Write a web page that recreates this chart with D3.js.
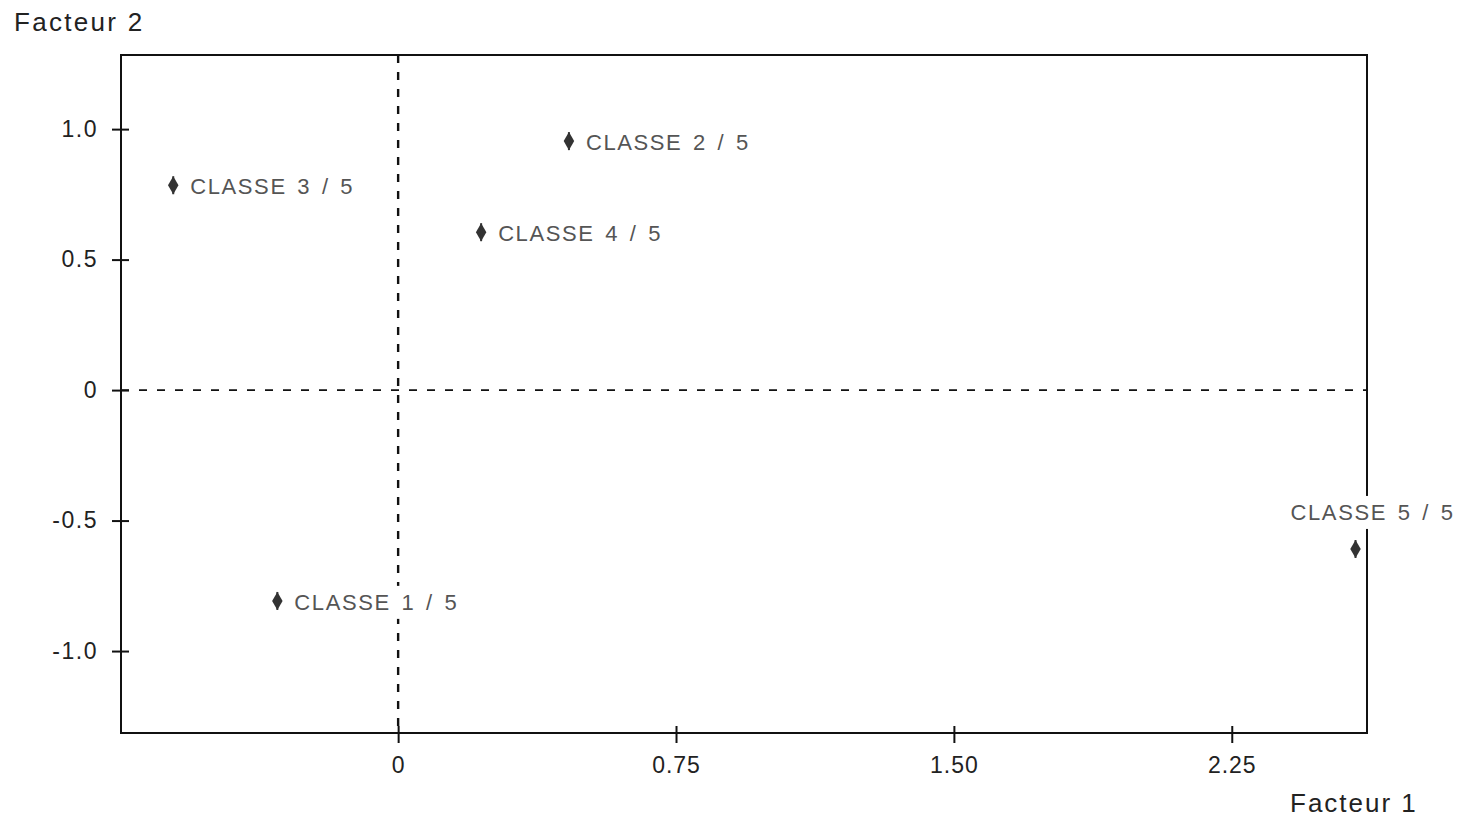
<!DOCTYPE html>
<html>
<head>
<meta charset="utf-8">
<script src="https://cdn.jsdelivr.net/npm/d3@7"></script>
<style>
  html, body { margin: 0; padding: 0; background: #fff; }
  svg { display: block; }
</style>
</head>
<body>
<svg id="chart" width="1464" height="821"></svg>
<script>
// ---- data ----
const labels = ["CLASSE 1 / 5", "CLASSE 2 / 5", "CLASSE 3 / 5", "CLASSE 4 / 5", "CLASSE 5 / 5"];
const factor1 = [-0.326, 0.461, -0.607, 0.224, 2.584];
const factor2 = [-0.808, 0.954, 0.785, 0.605, -0.609];
const xTicks = [0, 0.75, 1.50, 2.25];
const xTickLabels = ["0", "0.75", "1.50", "2.25"];
const yTicks = [-1.0, -0.5, 0, 0.5, 1.0];
const yTickLabels = ["-1.0", "-0.5", "0", "0.5", "1.0"];
const xTitle = "Facteur 1";
const yTitle = "Facteur 2";

// ---- layout ----
const svg = d3.select("#chart");
const L = 121, R = 1367, T = 55, B = 733;
const x = d3.scaleLinear().domain([-0.748, 2.615]).range([L, R]);
const y = d3.scaleLinear().domain([-1.314, 1.284]).range([B, T]);
const font = "'Liberation Sans', Arial, sans-serif";

// zero reference lines (dashed)
svg.append("line")
  .attr("x1", x(0)).attr("x2", x(0)).attr("y1", T).attr("y2", B)
  .attr("stroke", "#111").attr("stroke-width", 2.4).attr("stroke-dasharray", "8,9");
svg.append("line")
  .attr("x1", L).attr("x2", R).attr("y1", y(0)).attr("y2", y(0))
  .attr("stroke", "#111").attr("stroke-width", 1.7).attr("stroke-dasharray", "8,10");

// frame
svg.append("rect")
  .attr("x", L).attr("y", T).attr("width", R - L).attr("height", B - T)
  .attr("fill", "none").attr("stroke", "#111").attr("stroke-width", 2);

// axes via d3 axis generators
const xAxis = d3.axisBottom(x).tickValues(xTicks)
  .tickFormat((d, i) => xTickLabels[i]).tickSizeInner(10).tickSizeOuter(0).tickPadding(14);
const gx = svg.append("g").attr("transform", `translate(0,${B})`).call(xAxis);
gx.select(".domain").remove();
gx.selectAll(".tick line").attr("y1", -7).attr("y2", 10).attr("stroke", "#111").attr("stroke-width", 2);
gx.selectAll(".tick text").attr("font-family", font).attr("font-size", 23)
  .attr("fill", "#222").attr("letter-spacing", 1);

const yAxis = d3.axisLeft(y).tickValues(yTicks)
  .tickFormat((d, i) => yTickLabels[i]).tickSizeInner(9).tickSizeOuter(0).tickPadding(14);
const gy = svg.append("g").attr("transform", `translate(${L},0)`).call(yAxis);
gy.select(".domain").remove();
gy.selectAll(".tick line").attr("x1", -9).attr("x2", 8).attr("stroke", "#111").attr("stroke-width", 2);
gy.selectAll(".tick text").attr("font-family", font).attr("font-size", 23)
  .attr("fill", "#222").attr("letter-spacing", 1.5);

// axis titles
svg.append("text").attr("x", 14).attr("y", 31).text(yTitle)
  .attr("font-family", font).attr("font-size", 26).attr("letter-spacing", 2.3).attr("fill", "#222");
svg.append("text").attr("x", 1290).attr("y", 812).text(xTitle)
  .attr("font-family", font).attr("font-size", 26).attr("letter-spacing", 2).attr("fill", "#222");

// points
const pts = labels.map((l, i) => ({ label: l, fx: factor1[i], fy: factor2[i], above: x(factor1[i]) > R - 150 }));

const g = svg.append("g");
const lab = g.selectAll("g.lab").data(pts).join("g").attr("class", "lab");
lab.each(function (d) {
  const sel = d3.select(this);
  const px = x(d.fx), py = y(d.fy);
  const t = sel.append("text")
    .text(d.label)
    .attr("font-family", font).attr("font-size", 22)
    .attr("letter-spacing", 1.6).attr("word-spacing", 3)
    .attr("fill", "#555")
    .attr("dy", "0.36em");
  if (d.above) {
    t.attr("x", px + 17).attr("y", py - 37).attr("text-anchor", "middle");
  } else {
    t.attr("x", px + 17).attr("y", py + 1);
  }
  const bb = t.node().getBBox();
  sel.insert("rect", "text")
    .attr("x", bb.x - 3).attr("y", bb.y - 4).attr("width", bb.width + 6).attr("height", bb.height + 8)
    .attr("fill", "#fff");
});

const marker = g.selectAll("g.mk").data(pts).join("g").attr("class", "mk")
  .attr("transform", d => `translate(${x(d.fx)},${y(d.fy)})`);
marker.append("path")
  .attr("d", d3.symbol().type(d3.symbolDiamond).size(95))
  .attr("fill", "#333");
marker.append("line")
  .attr("x1", 0).attr("x2", 0).attr("y1", -9).attr("y2", 9)
  .attr("stroke", "#333").attr("stroke-width", 2);
</script>
</body>
</html>
